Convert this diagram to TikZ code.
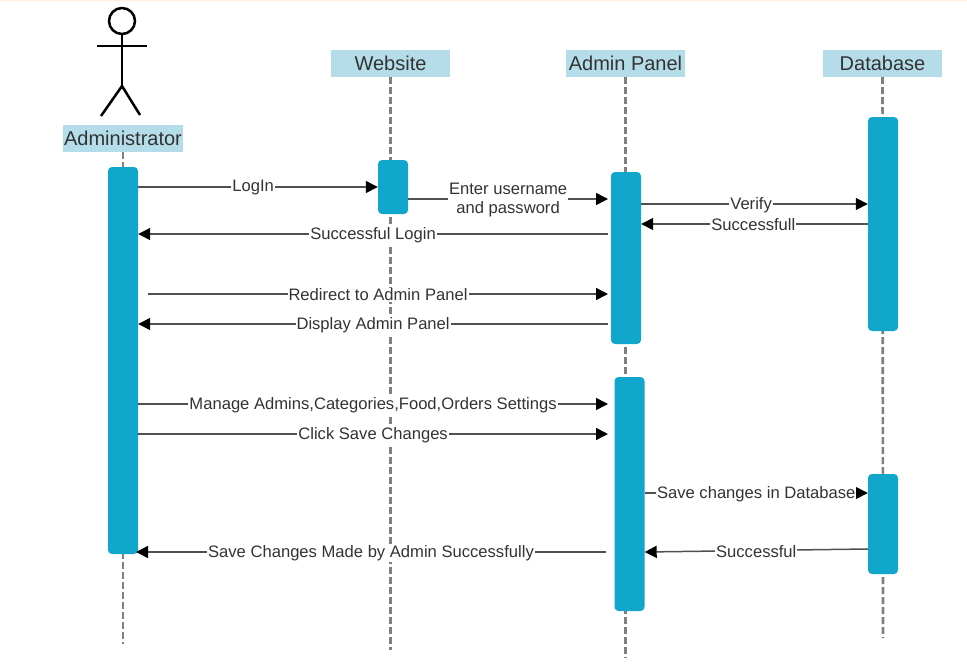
\documentclass[tikz,border=0pt]{standalone}
\usepackage{fontspec}
\setmainfont{Liberation Sans}
\usetikzlibrary{arrows.meta}
\definecolor{headblue}{HTML}{B4DDE9}
\definecolor{barblue}{HTML}{11A6CB}
\definecolor{inktext}{HTML}{333333}
\definecolor{linegray}{HTML}{505050}
\definecolor{lifegray}{HTML}{808080}
\definecolor{topband}{HTML}{FFF2DC}

\begin{document}
\begin{tikzpicture}[x=1pt, y=-1pt, every node/.style={text=inktext},
    head/.style={fill=headblue, minimum width=119, minimum height=27, inner sep=0, font=\fontsize{20}{22}\selectfont},
    bar/.style={fill=barblue, rounded corners=4, minimum width=30, inner sep=0},
    life/.style={draw=lifegray, line width=2.6, dash pattern=on 7 off 3},
    msg/.style={draw=linegray, line width=1.5, -{Triangle[length=12, width=12, color=black]}},
    lbl/.style={fill=white, inner sep=1, yshift=-1, align=center, font=\fontsize{16.6}{18.8}\selectfont},
    stick/.style={draw=black, line width=2.5}]
  \useasboundingbox (0,0) rectangle (967,667);
  \fill[topband] (0,0) rectangle (967,1);

  % heads
  \node[head, minimum width=120] (administrator) at (123,138.5) {Administrator};
  \node[head] (website) at (390.5,63.5) {Website};
  \node[head] (panel) at (625.5,63.5) {Admin Panel};
  \node[head] (database) at (882.5,63.5) {Database};

  % free ends of the lifelines
  \coordinate (administratorEnd) at (123,644);
  \coordinate (websiteEnd) at (390.5,650);
  \coordinate (panelEnd) at (625.5,658);
  \coordinate (databaseEnd) at (883,638);
  \draw[life] (administrator) -- (administratorEnd);
  \draw[life] (website) -- (websiteEnd);
  \draw[life] (panel) -- (panelEnd);
  \draw[life] (database) -- (databaseEnd);

  % actor
  \node[circle, stick, minimum size=26, inner sep=0] (actorHead) at (122,21) {};
  \coordinate (actorHip) at (122,86);
  \coordinate (actorLeft) at (97,46);
  \coordinate (actorRight) at (147,46);
  \coordinate (actorFootL) at (101,116);
  \coordinate (actorFootR) at (140,115);
  \draw[stick] (actorHead) -- (actorHip);
  \draw[stick] (actorLeft) -- (actorRight);
  \draw[stick] (actorFootL) -- (actorHip) -- (actorFootR);

  % bars
  \node[bar, minimum height=387] (adminBar) at (123,360.5) {};
  \node[bar, minimum height=54] (webBar) at (393,187) {};
  \node[bar, minimum height=172] (panelBarA) at (626,258) {};
  \node[bar, minimum height=234] (panelBarB) at (629.5,494) {};
  \node[bar, minimum height=214] (dbBarA) at (883,224) {};
  \node[bar, minimum height=100] (dbBarB) at (883,524) {};

  % free ends of the messages
  \coordinate (panelIn) at (608,0);
  \coordinate (adminOut) at (148,0);
  \coordinate (adminSaveIn) at (136,552);
  \coordinate (panelSaveOut) at (606,552);

  % messages
  \draw[msg] (adminBar.east |- 0,187) -- node[lbl, pos=.48] (lblLogin) {LogIn} (webBar.west |- 0,187);
  \draw[msg] (webBar.east |- 0,199) -- node[lbl, pos=.5] (lblEnter) {Enter username\\and password} (panelIn |- 0,199);
  \draw[msg] (panelBarA.east |- 0,204) -- node[lbl, pos=.485] (lblVerify) {Verify} (dbBarA.west |- 0,204);
  \draw[msg] (dbBarA.west |- 0,224) -- node[lbl, pos=.505] (lblSuccessfull) {Successfull} (panelBarA.east |- 0,224);
  \draw[msg] (panelIn |- 0,234) -- node[lbl, pos=.5] (lblLoginOk) {Successful Login} (adminBar.east |- 0,234);
  \draw[msg] (adminOut |- 0,294) -- node[lbl, pos=.5] (lblRedirect) {Redirect to Admin Panel} (panelIn |- 0,294);
  \draw[msg] (panelIn |- 0,324) -- node[lbl, pos=.5] (lblDisplay) {Display Admin Panel} (adminBar.east |- 0,324);
  \draw[msg] (adminBar.east |- 0,404) -- node[lbl, pos=.5] (lblManage) {Manage Admins,Categories,Food,Orders Settings} (panelIn |- 0,404);
  \draw[msg] (adminBar.east |- 0,434) -- node[lbl, pos=.5] (lblClick) {Click Save Changes} (panelIn |- 0,434);
  \draw[msg] (panelBarB.east |- 0,493) -- node[lbl, pos=.5] (lblSave) {Save changes in Database} (dbBarB.west |- 0,493);
  \draw[msg] (dbBarB.west |- 0,549) -- node[lbl, pos=.5] (lblSuccessful) {Successful} (panelBarB.east |- 0,552);
  \draw[msg] (panelSaveOut) -- node[lbl, pos=.5] (lblMade) {Save Changes Made by Admin Successfully} (adminSaveIn);
\end{tikzpicture}
\end{document}
